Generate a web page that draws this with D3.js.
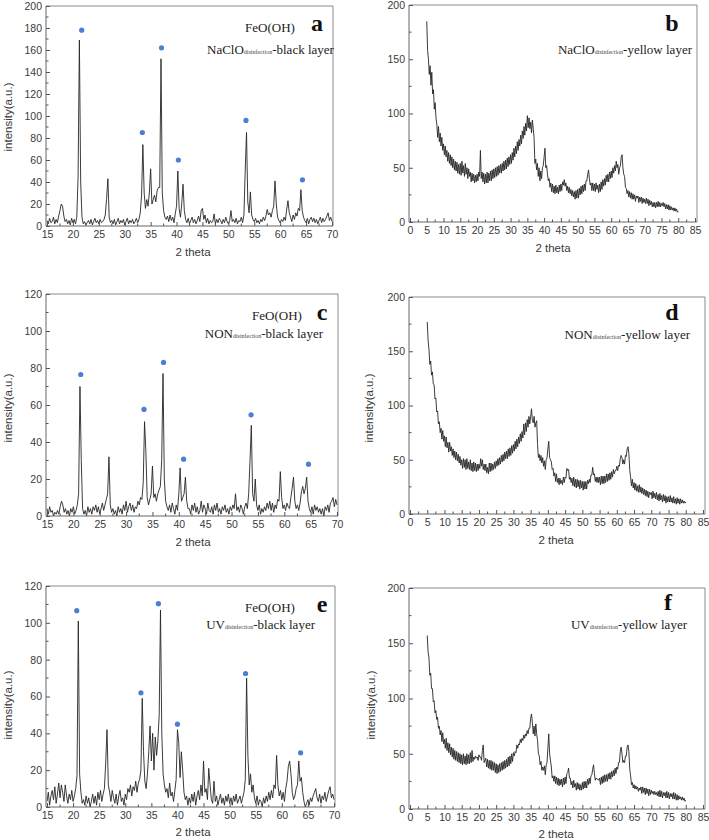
<!DOCTYPE html>
<html><head><meta charset="utf-8">
<script src="https://cdn.jsdelivr.net/npm/d3@7/dist/d3.min.js"></script>
<style>body{margin:0;background:#fff}svg{display:block}</style>
</head><body>
<svg id="c" width="709" height="840"></svg>
<script>
// ---------- DATA ----------
const step = 0.25;
const blackStart = 15, yellowStart = 5;
const xTicksBlack = [15,20,25,30,35,40,45,50,55,60,65,70];
const xTicksYellow = [0,5,10,15,20,25,30,35,40,45,50,55,60,65,70,75,80,85];
const yTicksA = [0,20,40,60,80,100,120,140,160,180,200];
const yTicksCE = [0,20,40,60,80,100,120];
const yTicksYellow = [0,50,100,150,200];

// intensity every 0.25 deg from 15 to 70 (panel a)
const aVals = [
5,2,7,3, 4,8,2,6, 3,9,14,20, 18,9,4,6, 2,5,1,7, 3,6,2,8,
45,169,40,8, 2,4,1,3, 5,2,6,1, 4,7,3,5, 2,6,3,4, 6,10,25,43,
8,3,5,2, 6,1,4,7, 2,5,3,6, 1,4,7,2, 5,3,6,2, 4,7,3,6,
12,28,74,30, 16,24,18,30, 52,20,24,28, 22,32,35,35, 152,30,14,8,
6,9,4,10, 5,8,3,11, 18,50,16,8, 20,38,14,6, 3,7,2,5,
8,3,6,2, 5,9,4,14, 16,6,10,3, 7,2,5,3, 4,11,2,6,
3,7,5,2, 6,3,8,4, 2,5,14,4, 6,3,7,2, 5,4,8,3,
10,50,85,22, 12,31,10,6, 4,7,3,5, 2,6,4,8, 5,9,15,10,
12,8,14,18, 41,20,8,5, 3,6,4,8, 5,15,23,12, 8,4,10,6,
12,9,16,14, 33,14,8,5, 3,7,2,6, 8,4,7,3, 6,2,5,8,
3,7,4,6, 9,12,5,8, 4];

// panel c, 15..70
const cVals = [
4,1,5,2, 3,0,2,1, 3,1,5,8, 6,2,4,1, 3,0,4,2, 5,1,3,6,
12,70,30,4, 1,3,0,5, 2,4,1,5, 3,6,2,5, 1,4,7,3, 6,9,12,32,
6,2,4,1, 3,0,5,2, 4,1,6,3, 8,2,5,7, 3,6,2,5, 4,8,6,10,
9,18,51,35, 10,6,9,12, 27,10,12,8, 12,14,16,30, 77,20,8,5,
3,6,2,7, 4,1,6,3, 12,26,8,10, 12,21,8,4, 4,1,6,3,
7,2,5,1, 3,8,2,6, 4,1,7,3, 2,5,1,6, 3,7,2,4,
1,5,3,6, 2,4,1,5, 3,6,4,12, 3,5,2,6, 4,1,5,7,
4,12,30,49, 12,8,20,6, 3,6,1,4, 2,5,3,7, 4,8,3,7,
2,6,4,9, 8,24,10,4, 6,3,7,5, 4,10,15,21, 8,4,6,3,
7,13,16,12, 15,21,8,4, 2,5,1,6, 3,5,2,4, 1,4,0,5,
3,6,2,7, 8,10,5,9, 6];

// panel e, 15..70
const eVals = [
3,8,1,6, 9,4,11,2, 7,13,5,12, 8,3,12,6, 2,7,4,9, 3,6,10,17,
101,18,8,2, 4,1,6,2, 5,0,3,7, 2,6,1,8, 4,9,3,7, 10,24,42,12,
8,3,9,5, 2,7,1,6, 9,3,5,1, 7,4,10,8, 12,6,11,9, 14,8,13,15,
20,59,30,14, 10,18,30,44, 25,40,20,38, 28,36,50,107, 40,18,12,8,
10,5,13,6, 8,3,9,15, 42,35,16,30, 20,8,4,6, 1,5,2,7,
3,8,1,6, 9,4,12,6, 25,8,10,4, 21,12,4,2, 14,3,6,1,
4,7,2,5, 1,6,3,7, 2,5,1,6, 3,7,2,4, 6,2,5,8,
15,70,28,12, 18,8,12,5, 2,6,1,4, 3,0,5,2, 6,3,8,4,
9,5,12,10, 28,12,6,9, 4,8,3,10, 14,22,25,18, 8,4,6,10,
12,25,14,16, 8,3,0,2, 4,1,5,3, 6,8,10,5, 3,7,2,6,
4,8,3,6, 9,11,5,7, 4];

// panel b, 5..80
const bVals = [
185,158,150,136, 144,126,138,118, 122,104,110,96, 90,78,88,74, 82,70,78,66,
72,62,70,60, 66,56,64,54, 62,52,60,50, 58,48,56,47, 55,45,53,44,
54,43,56,45, 52,42,54,44, 50,40,49,42, 46,37,45,38, 44,36,43,37,
44,38,46,42, 66,40,46,37, 45,35,44,36, 46,36,45,38, 47,38,48,40,
49,41,50,42, 51,43,52,45, 53,45,54,47, 56,48,57,49, 59,51,60,53,
62,54,64,57, 68,60,70,63, 74,66,76,70, 80,72,84,77, 88,80,91,84,
98,87,96,86, 92,82,94,86, 78,54,58,48, 54,42,50,38, 47,40,50,52,
60,68,50,52, 44,38,40,32, 36,28,35,27, 33,26,34,27, 32,26,34,28,
35,29,37,34, 39,33,36,29, 33,27,32,26, 30,24,29,23, 28,21,29,22,
30,22,31,25, 33,26,34,28, 35,29,38,38, 44,48,40,34, 36,29,36,29,
35,28,36,30, 34,27,35,28, 37,30,39,33, 40,34,43,37, 44,37,46,40,
47,41,50,45, 52,47,56,50, 53,44,50,52, 60,62,50,44, 42,32,31,26,
29,23,28,22, 27,21,26,21, 25,19,24,22, 24,18,23,19, 23,17,22,18,
21,17,22,17, 21,15,20,16, 19,14,18,14, 18,13,18,14, 19,14,18,14,
17,15,18,14, 17,12,16,12, 16,11,15,11, 14,11,13,10, 13,10,12,9,
10];

// panel d, 5..80
const dVals = [
177,160,152,138, 141,128,131,120, 119,106,107,94, 95,83,85,75, 79,69,77,67,
72,62,71,61, 66,57,66,58, 62,54,60,52, 58,50,57,49, 55,47,53,45,
50,42,51,43, 50,41,51,42, 48,41,50,40, 47,39,48,40, 47,39,46,40,
46,42,51,44, 50,41,46,40, 46,38,43,37, 47,39,47,40, 46,41,48,42,
49,44,51,45, 52,46,54,48, 55,49,57,51, 58,51,60,53, 61,54,63,56,
64,58,67,60, 69,62,71,65, 74,67,76,70, 83,73,84,76, 87,80,90,83,
90,97,86,84, 90,80,84,86, 64,52,55,49, 54,47,52,44, 49,41,50,52,
60,67,52,50, 48,41,42,35, 38,30,37,29, 33,27,33,28, 31,27,34,29,
34,33,42,40, 41,32,34,29, 33,26,34,25, 32,24,32,25, 31,23,31,24,
30,22,30,23, 30,23,31,28, 32,29,36,36, 43,36,37,30, 34,29,34,29,
34,27,35,28, 35,28,35,29, 37,30,37,31, 38,32,39,34, 41,37,40,40,
44,40,45,44, 51,54,52,46, 50,46,54,53, 60,62,56,40, 34,26,32,24,
29,22,28,21, 26,20,27,20, 25,19,24,18, 23,17,22,16, 21,15,20,18,
20,14,21,15, 19,14,20,13, 18,12,19,13, 17,11,18,12, 17,10,16,11,
16,11,17,11, 15,10,16,10, 14,9,15,10, 14,9,14,10, 13,10,12,10,
11];

// panel f, 5..80
const fVals = [
157,142,137,121, 123,109,109,97, 98,87,89,81, 83,73,75,67, 71,61,69,59,
63,55,64,53, 60,51,59,49, 56,47,55,45, 53,44,52,43, 51,42,50,41,
49,40,50,41, 48,40,50,41, 49,41,51,42, 53,43,47,45, 48,46,47,44,
49,47,47,44, 53,58,42,44, 46,38,45,37, 44,36,44,35, 43,35,42,33,
41,32,40,33, 41,34,42,35, 43,36,44,37, 45,38,47,39, 48,41,50,43,
51,48,52,51, 58,55,59,58, 63,60,64,62, 67,64,68,66, 71,68,73,73,
82,86,78,68, 75,66,77,68, 62,50,48,40, 43,35,38,35, 39,31,40,42,
55,68,50,44, 38,28,30,25, 30,23,29,22, 28,21,27,22, 27,20,28,22,
29,23,32,33, 37,28,28,22, 25,19,26,20, 23,17,24,18, 23,17,22,17,
24,18,25,19, 25,19,27,22, 28,23,30,31, 36,40,32,26, 28,27,27,26,
28,22,29,23, 30,24,31,25, 31,25,32,27, 33,27,34,29, 35,30,37,32,
38,36,42,42, 52,56,50,42, 44,42,48,48, 56,58,52,36, 30,22,24,19,
22,18,21,18, 20,16,19,17, 20,14,20,15, 19,13,19,14, 18,12,18,13,
17,14,16,13, 16,13,15,12, 16,11,17,11, 16,10,15,12, 15,10,16,10,
15,9,14,11, 14,9,15,9, 14,8,13,8, 12,9,11,8, 11,8,10,7,
8];

// FeO(OH) peak markers [2theta, intensity]
const aDots = [[21.7,178],[33.4,85],[37.1,162],[40.35,60],[53.4,96],[64.3,42]];
const cDots = [[21.4,76.5],[33.4,57.6],[37.1,83],[40.9,30.7],[53.7,54.7],[64.6,28]];
const eDots = [[20.7,106.6],[33.0,62],[36.35,110.4],[40.0,45],[53.05,72.5],[63.6,29.4]];

const labels = {
  a:["NaClO","disinfection","-black layer"], b:["NaClO","disinfection","-yellow layer"],
  c:["NON","disinfection","-black layer"], d:["NON","disinfection","-yellow layer"],
  e:["UV","disinfection","-black layer"], f:["UV","disinfection","-yellow layer"]
};

// ---------- LAYOUT ----------
const panels = [
 {id:"a", vals:aVals, start:blackStart, xd:[15,70], yd:[0,200], xt:xTicksBlack, yt:yTicksA, ym:10,
  xr:[47,332], yr:[226,6], fr:333, dots:aDots, ylab:[8,117], xlab:[193,256],
  fe:[270,32], let:[317,31], sub:[207,54], subAnchor:"start"},
 {id:"b", vals:bVals, start:yellowStart, xd:[0,85], yd:[0,200], xt:xTicksYellow, yt:yTicksYellow, ym:25,
  xr:[410,695], yr:[222,5], fr:697, dots:null, ylab:null, xlab:[553,252],
  fe:null, let:[672,31], sub:[692,54], subAnchor:"end"},
 {id:"c", vals:cVals, start:blackStart, xd:[15,70], yd:[0,120], xt:xTicksBlack, yt:yTicksCE, ym:10,
  xr:[47,337], yr:[516,294], fr:338, dots:cDots, ylab:[8,408], xlab:[193,546],
  fe:[277,320], let:[322,320], sub:[323,338], subAnchor:"end"},
 {id:"d", vals:dVals, start:yellowStart, xd:[0,85], yd:[0,200], xt:xTicksYellow, yt:yTicksYellow, ym:25,
  xr:[410,703], yr:[514,297], fr:705, dots:null, ylab:[369,408], xlab:[556,544],
  fe:null, let:[672,320], sub:[690,339], subAnchor:"end"},
 {id:"e", vals:eVals, start:blackStart, xd:[15,70], yd:[0,120], xt:xTicksBlack, yt:yTicksCE, ym:10,
  xr:[47,334], yr:[807,586], fr:335, dots:eDots, ylab:[8,705], xlab:[193,836],
  fe:[270,612], let:[322,612], sub:[315,629], subAnchor:"end"},
 {id:"f", vals:fVals, start:yellowStart, xd:[0,85], yd:[0,200], xt:xTicksYellow, yt:yTicksYellow, ym:25,
  xr:[410,703], yr:[809,588], fr:705, dots:null, ylab:[371,705], xlab:[556,838],
  fe:null, let:[668,610], sub:[687,629], subAnchor:"end"}
];

const svg = d3.select("#c");
const sans = "'Liberation Sans', Arial, sans-serif";
const serif = "'Liberation Serif', 'Times New Roman', serif";

panels.forEach(p=>{
  const x = d3.scaleLinear().domain(p.xd).range(p.xr);
  const y = d3.scaleLinear().domain(p.yd).range(p.yr);
  const g = svg.append("g");
  const top = p.yr[1], bot = p.yr[0], left = p.xr[0]-1;
  g.append("path").attr("d",`M${left},${top}H${p.fr}V${bot}`).attr("fill","none").attr("stroke","#8a8a8a").attr("stroke-width",1);

  const pts = p.vals.map((v,i)=>[p.start+i*step, v]);
  const line = d3.line().x(d=>x(d[0])).y(d=>y(d[1]));
  g.append("path").datum(pts).attr("d",line).attr("fill","none").attr("stroke","#262626").attr("stroke-width",0.9).attr("stroke-linejoin","round");

  const xa = d3.axisBottom(x).tickValues(p.xt).tickSize(-4).tickPadding(5).tickFormat(d3.format("d"));
  const gx = g.append("g").attr("transform",`translate(0,${bot})`).call(xa);
  const xMinor = d3.range(p.xd[0]+2.5, p.xd[1], 5);
  gx.selectAll(".minor").data(xMinor).enter().append("line").attr("class","minor")
    .attr("x1",d=>x(d)).attr("x2",d=>x(d)).attr("y1",0).attr("y2",-2.5).attr("stroke","#555");
  const ya = d3.axisLeft(y).tickValues(p.yt).tickSize(-4).tickPadding(4).tickFormat(d3.format("d"));
  const gy = g.append("g").attr("transform",`translate(${left},0)`).call(ya);
  const yMinor = d3.range(p.yd[0]+p.ym, p.yd[1], p.ym*2);
  gy.selectAll(".minor").data(yMinor).enter().append("line").attr("class","minor")
    .attr("y1",d=>y(d)).attr("y2",d=>y(d)).attr("x1",0).attr("x2",2.5).attr("stroke","#555");
  [gx,gy].forEach(a=>{
    a.select(".domain").attr("stroke","#666");
    a.selectAll(".tick line").attr("stroke","#555");
    a.selectAll("text").attr("fill","#3a3a3a").style("font-family",sans).style("font-size","10.5px");
  });
  gx.select(".domain").attr("d",`M${left},0H${p.fr}`);
  gy.select(".domain").attr("d",`M0,${bot}V${top}`);

  if(p.dots){
    g.selectAll("circle").data(p.dots).enter().append("circle")
      .attr("cx",d=>x(d[0])).attr("cy",d=>y(d[1])).attr("r",2.6).attr("fill","#4a7fd3");
  }
  g.append("text").attr("x",p.xlab[0]).attr("y",p.xlab[1]).attr("text-anchor","middle")
    .style("font-family",sans).style("font-size","11.5px").attr("fill","#3a3a3a").text("2 theta");
  if(p.ylab){
    g.append("text").attr("transform",`translate(${p.ylab[0]+4},${p.ylab[1]}) rotate(-90)`).attr("text-anchor","middle")
      .style("font-family",sans).style("font-size","11.5px").attr("fill","#3a3a3a").text("intensity(a.u.)");
  }
  if(p.fe){
    g.append("text").attr("x",p.fe[0]).attr("y",p.fe[1]).attr("text-anchor","middle")
      .style("font-family",serif).style("font-size","13px").attr("fill","#222").text("FeO(OH)");
  }
  g.append("text").attr("x",p.let[0]).attr("y",p.let[1]).attr("text-anchor","middle")
    .style("font-family",serif).style("font-size","24px").style("font-weight","bold").attr("fill","#111").text(p.id);
  const L = labels[p.id];
  const t = g.append("text").attr("x",p.sub[0]).attr("y",p.sub[1]).attr("text-anchor",p.subAnchor)
    .style("font-family",serif).style("font-size","13px").attr("fill","#222");
  t.append("tspan").text(L[0]);
  t.append("tspan").style("font-size","6px").attr("fill","#444").text(L[1]);
  t.append("tspan").text(L[2]);
});
</script>
</body></html>
